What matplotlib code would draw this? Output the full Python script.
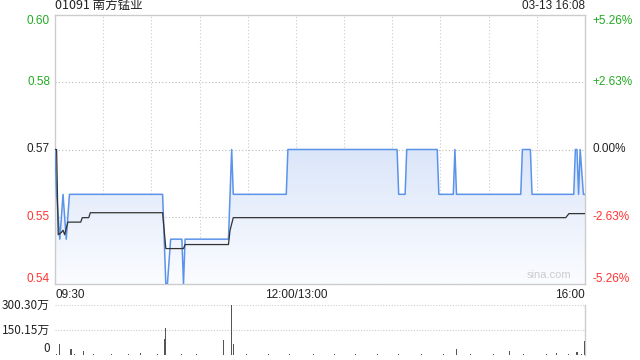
import numpy as np
import matplotlib
matplotlib.use('Agg')
import matplotlib.pyplot as plt
from matplotlib.colors import LinearSegmentedColormap

# minute index: 0 = 09:30, 150 = 12:00/13:00, 330 = 16:00
price_t = [0, 1, 3, 5, 7, 9, 67, 69, 70, 72, 79, 80, 81, 108, 110, 111, 144, 145,
           213, 214, 218, 219, 238, 239, 248, 249, 250, 290, 291, 296, 297,
           323, 324, 325, 326, 327, 329, 330]
price_v = [0.57, 0.56, 0.55, 0.56, 0.55, 0.56, 0.56, 0.54, 0.54, 0.55, 0.55, 0.54, 0.55,
           0.55, 0.57, 0.56, 0.56, 0.57,
           0.57, 0.56, 0.56, 0.57, 0.57, 0.56, 0.56, 0.57, 0.56, 0.56, 0.57, 0.57, 0.56,
           0.56, 0.57, 0.57, 0.56, 0.57, 0.56, 0.56]

avg_t = [0, 1, 2, 4, 5, 6, 8, 16, 17, 21, 22, 67, 69, 80, 81, 108, 109, 111, 318, 320, 330]
avg_v = [0.57, 0.57, 0.551, 0.5515, 0.552, 0.551, 0.5538, 0.5538, 0.5548, 0.5548, 0.5559,
         0.5559, 0.5479, 0.5479, 0.5488, 0.5488, 0.552, 0.5548, 0.5548, 0.5557, 0.5557]

vol_t = [3, 10, 18, 53, 68, 69, 105, 110, 111, 250, 283, 312, 325, 330]
vol_v = [66, 36, 24, 10, 96, 162, 90, 300.3, 66, 36, 25, 15, 18, 84]
small_t = [1, 5, 7, 12, 14, 21, 24, 27, 31, 35, 38, 42, 46, 49, 57, 61, 64, 72, 75, 79,
           84, 88, 92, 96, 99, 103, 115, 119, 124, 128, 133, 137, 141, 146, 152, 156,
           161, 165, 169, 174, 178, 183, 187, 192, 196, 201, 205, 210, 214, 219, 223,
           228, 233, 238, 242, 247, 255, 259, 264, 268, 273, 278, 288, 292, 297, 301,
           306, 316, 320, 328]
small_v = [4, 3, 3, 4, 3, 3, 4, 3, 3, 4, 3, 3, 4, 3, 3, 3, 4, 3, 3, 4,
           3, 4, 3, 3, 4, 3, 3, 4, 3, 3, 4, 3, 3, 4, 3, 3,
           4, 3, 3, 4, 3, 3, 4, 3, 3, 4, 3, 3, 4, 3, 3,
           4, 3, 3, 4, 3, 3, 4, 3, 3, 4, 3, 3, 4, 3, 3,
           4, 3, 4, 4]

y_ticks = [0.54, 0.555, 0.57, 0.585, 0.60]
y_labels = ['0.54', '0.55', '0.57', '0.58', '0.60']
pct_labels = ['-5.26%', '-2.63%', '0.00%', '+2.63%', '+5.26%']
tick_colors = ['#ff3333', '#ff3333', '#222222', '#22aa22', '#22aa22']

cjk = ['Noto Sans CJK SC', 'DejaVu Sans']
plt.rcParams['font.family'] = ['Liberation Sans', 'DejaVu Sans']

fig = plt.figure(figsize=(6.4, 3.6), dpi=100)
ax = fig.add_axes([55/640, 1 - 284/360, 530/640, 269/360])
axv = fig.add_axes([55/640, 1 - 355/360, 530/640, 50/360])

grid_c = '#cccccc'
for a in (ax, axv):
    a.set_xlim(0, 330)
    a.set_xticks([])
    a.set_yticks([])
    for s in a.spines.values():
        s.set_color(grid_c)
        s.set_linewidth(1)

ax.set_ylim(0.54, 0.60)
for xg in range(30, 330, 30):
    ax.axvline(xg, color=grid_c, ls=(0, (1, 2)), lw=0.8, zorder=1)
for yg in y_ticks[1:4]:
    ax.axhline(yg, color='#bbbbbb', ls=(0, (1, 2)), lw=0.8, zorder=1)

# gradient fill under the price line
poly = ax.fill_between(price_t, price_v, 0.54, facecolor='none', edgecolor='none')
cmap = LinearSegmentedColormap.from_list('g', ['#fbfcff', '#dbe6f9'])
grad = np.linspace(0, 1, 100).reshape(-1, 1)
img = ax.imshow(grad, extent=[0, 330, 0.54, 0.57], origin='lower', cmap=cmap,
                aspect='auto', zorder=2)
img.set_clip_path(poly.get_paths()[0], transform=ax.transData)
ax.set_ylim(0.54, 0.60)
ax.set_xlim(0, 330)

ax.plot(price_t, price_v, color='#5b93ea', lw=1.1, zorder=3)
ax.plot(avg_t, avg_v, color='#333333', lw=0.9, zorder=4)

# y labels left and right
lx = -5 / 530
rx = 1 + 7 / 530
for yv, lab, pct, c in zip(y_ticks, y_labels, pct_labels, tick_colors):
    off = 0
    if yv == 0.60:
        off = -0.0013
    if yv == 0.54:
        off = 0.0011
    ax.text(lx, yv + off, lab, ha='right', va='center', color=c, fontsize=8.5,
            transform=ax.get_yaxis_transform())
    ax.text(rx, yv + off, pct, ha='left', va='center', color=c, fontsize=8.5,
            transform=ax.get_yaxis_transform())

ax.text(0, 1.012, '01091 南方锰业', transform=ax.transAxes, ha='left', va='bottom',
        fontsize=9, color='#222222', family=cjk)
ax.text(1, 1.012, '03-13 16:08', transform=ax.transAxes, ha='right', va='bottom',
        fontsize=8.5, color='#222222')
ax.text(0.975, 0.015, 'sina.com', transform=ax.transAxes, ha='right', va='bottom',
        fontsize=8, color='#cccccc')

ax.text(0, -0.02, '09:30', transform=ax.transAxes, ha='left', va='top', fontsize=8.5, color='#222222')
ax.text(150, -0.02, '12:00/13:00', transform=ax.get_xaxis_transform(), ha='center', va='top',
        fontsize=8.5, color='#222222')
ax.text(1, -0.02, '16:00', transform=ax.transAxes, ha='right', va='top', fontsize=8.5, color='#222222')

# volume panel
axv.set_ylim(0, 300.3)
axv.spines['top'].set_visible(False)
axv.spines['bottom'].set_visible(False)
axv.spines['left'].set_visible(False)
for yg in [150.15, 300.3]:
    axv.axhline(yg, color=grid_c, ls=(0, (1, 1.5)), lw=0.8, zorder=1)
axv.bar(small_t, small_v, width=0.6, color='#555555', zorder=2)
axv.bar(vol_t, vol_v, width=0.7, color='#555555', zorder=3)
axv.axhline(0.5, color='#aaaaaa', lw=0.5, ls=(0, (1, 1)), zorder=1)
vol_labels = [(300.3, '300.30万'), (150.15, '150.15万'), (40, '0')]
for yv, lab in vol_labels:
    axv.text(lx, yv, lab, transform=axv.get_yaxis_transform(), ha='right', va='center',
             fontsize=8.5, color='#222222', family=cjk)

fig.savefig('out.png', dpi=100)
